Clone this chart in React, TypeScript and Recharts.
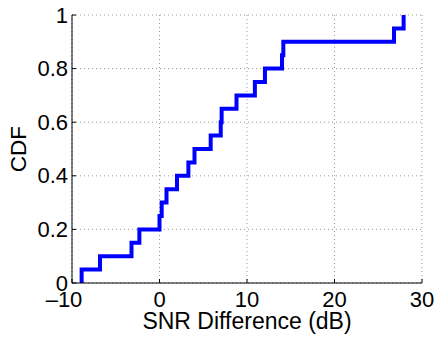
import * as React from "react";
import { LineChart, Line, XAxis, YAxis, CartesianGrid, Label } from "recharts";

// empirical CDF: x where each step happens, and the level reached there
const STEP_X = [
  -8.9, -6.8, -3.2, -2.3, 0.0, 0.25, 0.8, 2.0, 3.3, 4.0,
  5.85, 7.0, 7.1, 8.8, 10.9, 12.05, 14.0, 14.15, 26.8, 27.9,
];
const STEP_CDF = [
  0.05, 0.1, 0.15, 0.2, 0.25, 0.3, 0.35, 0.4, 0.45, 0.5,
  0.55, 0.6, 0.65, 0.7, 0.75, 0.8, 0.85, 0.9, 0.95, 1.0,
];
const X_TICKS = [-10, 0, 10, 20, 30];
const Y_TICKS = [0, 0.2, 0.4, 0.6, 0.8, 1];
const X_LABEL = "SNR Difference (dB)";
const Y_LABEL = "CDF";

const FONT = '"Liberation Sans", Arial, Helvetica, sans-serif';
const BLUE = "#0000ff";
const TICK_LEN = 4;

const data = [{ x: STEP_X[0], cdf: 0 }, ...STEP_X.map((x, i) => ({ x, cdf: STEP_CDF[i] }))];

const fmt = (v: number) => (v < 0 ? "\u2013" + Math.abs(v) : String(v));

function BottomTick(props: any) {
  const { x, y, payload } = props;
  const v = payload.value as number;
  return (
    <g>
      <line x1={x} x2={x} y1={y} y2={y - TICK_LEN} stroke="#000" />
      <text x={x + (v === -10 ? -8 : 0)} y={y + 23.5} textAnchor="middle" fontSize={22} fontFamily={FONT} fill="#000">
        {fmt(v)}
      </text>
    </g>
  );
}

function TopTick(props: any) {
  const { x, y } = props;
  return <line x1={x} x2={x} y1={y} y2={y + TICK_LEN} stroke="#000" />;
}

function LeftTick(props: any) {
  const { x, y, payload } = props;
  return (
    <g>
      <line x1={x} x2={x + TICK_LEN} y1={y} y2={y} stroke="#000" />
      <text x={x - 4} y={y + 7.5} textAnchor="end" fontSize={22} fontFamily={FONT} fill="#000">
        {payload.value}
      </text>
    </g>
  );
}

function RightTick(props: any) {
  const { x, y } = props;
  return <line x1={x} x2={x - TICK_LEN} y1={y} y2={y} stroke="#000" />;
}

export default function App() {
  return (
    <div style={{ position: "absolute", left: 0, top: 0, background: "#fff" }}>
      <LineChart width={436} height={337} data={data} margin={{ top: 15, right: 14, bottom: 0, left: 0 }}>
        <CartesianGrid stroke="#999" strokeDasharray="1 3" />
        <XAxis
          dataKey="x" type="number" domain={[-10, 30]} ticks={X_TICKS} interval={0}
          height={54} tickSize={0} tickMargin={0} tickLine={false} tick={<BottomTick />}
          axisLine={{ stroke: "#000" }} allowDataOverflow
        >
          <Label
            content={(p: any) => (
              <text x={p.viewBox.x + p.viewBox.width / 2} y={p.viewBox.y + 45.5} textAnchor="middle"
                fontSize={23} fontFamily={FONT} fill="#000">{X_LABEL}</text>
            )}
          />
        </XAxis>
        <XAxis
          xAxisId="t" orientation="top" dataKey="x" type="number" domain={[-10, 30]} ticks={X_TICKS} interval={0}
          height={0} tickSize={0} tickMargin={0} tickLine={false} tick={<TopTick />}
          axisLine={{ stroke: "#000" }} allowDataOverflow
        />
        <YAxis
          type="number" domain={[0, 1]} ticks={Y_TICKS} interval={0}
          width={72} tickSize={0} tickMargin={0} tickLine={false} tick={<LeftTick />}
          axisLine={{ stroke: "#000" }} allowDataOverflow
        >
          <Label
            content={(p: any) => {
              const cx = p.viewBox.x + 26;
              const cy = p.viewBox.y + p.viewBox.height / 2;
              return (
                <text x={cx} y={cy} transform={`rotate(-90 ${cx} ${cy})`} textAnchor="middle"
                  fontSize={22.5} fontFamily={FONT} fill="#000">{Y_LABEL}</text>
              );
            }}
          />
        </YAxis>
        <YAxis
          yAxisId="r" orientation="right" type="number" domain={[0, 1]} ticks={Y_TICKS} interval={0}
          width={0} tickSize={0} tickMargin={0} tickLine={false} tick={<RightTick />}
          axisLine={{ stroke: "#000" }} allowDataOverflow
        />
        <Line type="stepAfter" dataKey="cdf" stroke={BLUE} strokeWidth={4} dot={false} activeDot={false}
          isAnimationActive={false} />
      </LineChart>
    </div>
  );
}
